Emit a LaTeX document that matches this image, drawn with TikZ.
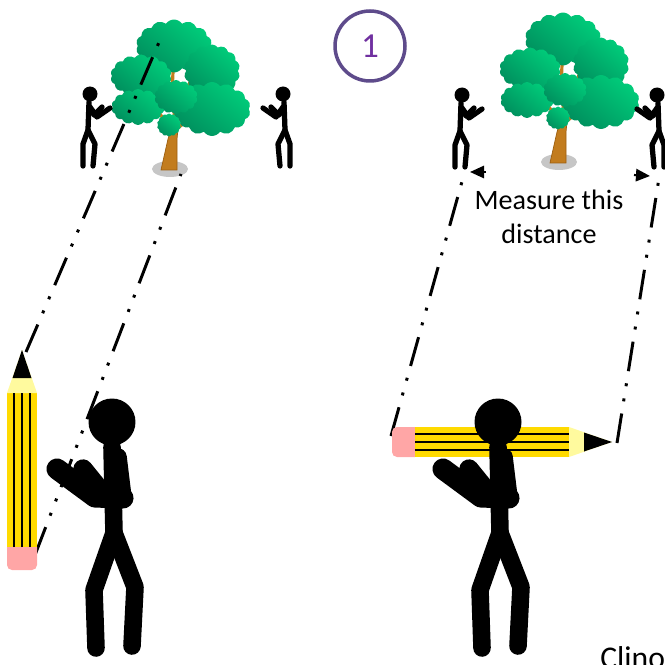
\documentclass[tikz,border=0pt]{standalone}
\usepackage{fontspec}
\setmainfont{Carlito}
\usetikzlibrary{arrows.meta,shapes.symbols}
\definecolor{LeafDark}{HTML}{00905E}
\definecolor{LeafLight}{HTML}{00CC7A}
\definecolor{BarkBrown}{HTML}{C27C1E}
\definecolor{BarkDark}{HTML}{9C5E10}
\definecolor{PencilGold}{HTML}{FFDA00}
\definecolor{PencilWood}{HTML}{FFFA9E}
\definecolor{PencilPink}{HTML}{FFA6A6}
\definecolor{StepPurple}{HTML}{5E4B8B}
\definecolor{DigitPurple}{HTML}{7030A0}

\tikzset{
  leaf/.style={cloud, cloud puffs=14, cloud puff arc=110, cloud ignores aspect,
    inner sep=0pt, top color=LeafLight, bottom color=LeafDark, shading angle=-40},
  sightline/.style={line width=1.7pt,
    dash pattern=on 17pt off 7pt on 1.7pt off 7pt on 1.7pt off 7pt},
  figline/.style={line width=10pt, line cap=round, line join=round},
  smallline/.style={line width=3pt, line cap=round, line join=round},
  measure/.style={-{Triangle[length=8pt,width=7pt]}, line width=1.2pt},
  % tree, origin at the foot of the trunk
  tree/.pic={
    \fill[gray!45] (0,0) ellipse[x radius=0.36cm, y radius=0.16cm];
    \filldraw[fill=BarkBrown, draw=BarkDark, line width=0.4pt]
      (-9,1) -- (-2,-30) -- (4,-50) -- (9,-50) -- (7,-30) -- (7,1) -- cycle;
    \draw[BarkBrown, line width=1.8pt, line cap=round]
      (5,-48) -- (2,-75) -- (3,-97)
      (6,-50) -- (20,-87)
      (2,-38) -- (-10,-55)
      (7,-40) -- (15,-47);
    \node[leaf, minimum width=1.52cm, minimum height=1.06cm] at (4,-123) {};
    \node[leaf, minimum width=1.12cm, minimum height=1.06cm] at (42,-98) {};
    \node[leaf, minimum width=1.22cm, minimum height=0.86cm] at (-29,-93) {};
    \node[leaf, minimum width=1.06cm, minimum height=0.72cm] at (-32,-62) {};
    \node[leaf, minimum width=1.54cm, minimum height=1.08cm] at (42,-60) {};
    \node[leaf, minimum width=0.86cm, minimum height=0.68cm] at (6,-72) {};
    \node[leaf, minimum width=0.48cm, minimum height=0.46cm] at (-1,-44) {};
  },
  % small stick man facing right, origin at the head
  walker/.pic={
    \fill (0,0) circle[radius=0.15cm];
    \draw[smallline] (-1,8) -- (-2,36) -- (-7,50) -- (-7,72);
    \draw[smallline] (-2,36) -- (5,50) -- (3,72);
    \draw[smallline] (0,13) -- (7,23) -- (20,14);
    \draw[smallline] (0,14) -- (4,21) -- (12,13);
  },
  % big stick man holding something up, origin at the head
  stander/.pic={
    \fill (0,0) circle[radius=0.47cm];
    \draw[figline] (0,25) -- (2,111);
    \draw[figline] (2,111) -- (-18,168) -- (-16,226);
    \draw[figline] (2,111) -- (23,165) -- (20,224);
    \draw[figline, line width=11pt] (-12,68) -- (-29,47);
    \draw[figline] (6,35) -- (11,76);
    \draw[figline, line width=12pt] (11,76) -- (-17,75) -- (-55,47);
  },
  % pencil pointing along x, origin at the end of the eraser
  pencil/.pic={
    \fill[PencilPink, rounded corners=0.1cm] (0,-15) rectangle (28,15);
    \fill[PencilGold] (23,-15) rectangle (177,15);
    \fill[PencilWood] (177,-15) -- (220,0) -- (177,15) -- cycle;
    \fill (192,-9.5) -- (220,0) -- (192,9.5) -- cycle;
    \draw[line width=1.2pt] (23,-8) -- (177,-8) (23,0) -- (177,0) (23,8) -- (177,8);
  },
}

\begin{document}
\begin{tikzpicture}[x=0.02cm, y=-0.02cm]
  \useasboundingbox (0,0) rectangle (664,665);

  % trees and people around them
  \pic at (170,169) {tree};
  \pic at (559,162) {tree};
  \pic at (90,94) {walker};
  \pic[xscale=-1] at (283,94) {walker};
  \pic at (462,95) {walker};
  \pic[xscale=-1] at (657,95) {walker};

  \node[circle, draw=StepPurple, line width=2pt, minimum size=1.4cm,
    text=DigitPurple, font=\fontsize{20}{20}\selectfont] (step) at (370,46) {1};

  % lines of sight
  \coordinate (penA) at (26,352);
  \coordinate (topA) at (163,33);
  \coordinate (penB) at (35,555);
  \coordinate (footT) at (181,174);
  \coordinate (penC) at (391,436);
  \coordinate (footL) at (463,178);
  \coordinate (penD) at (617,443);
  \coordinate (footR) at (659,178);
  \draw[sightline] (penA) -- (topA);
  \draw[sightline] (penB) -- (footT);
  \draw[sightline] (penC) -- (footL);
  \draw[sightline] (penD) -- (footR);

  % distance between the two people
  \coordinate (endL) at (470,172);
  \coordinate (endR) at (650,176);
  \coordinate (stubL) at (486,172);
  \coordinate (stubR) at (634,175);
  \draw[measure] (stubL) -- (endL);
  \draw[measure] (stubR) -- (endR);
  \node[font=\fontsize{16}{19}\selectfont, align=center] (gap) at (549,217)
    {Measure this\\distance};

  % pencils and the people holding them
  \pic[rotate=90] at (22,570) {pencil};
  \pic at (392,442) {pencil};
  \pic at (112,422) {stander};
  \pic at (498,422) {stander};

  \node[anchor=base west, inner sep=0pt, font=\fontsize{18}{21}\selectfont]
    (clino) at (600,668) {Clino};
\end{tikzpicture}
\end{document}
